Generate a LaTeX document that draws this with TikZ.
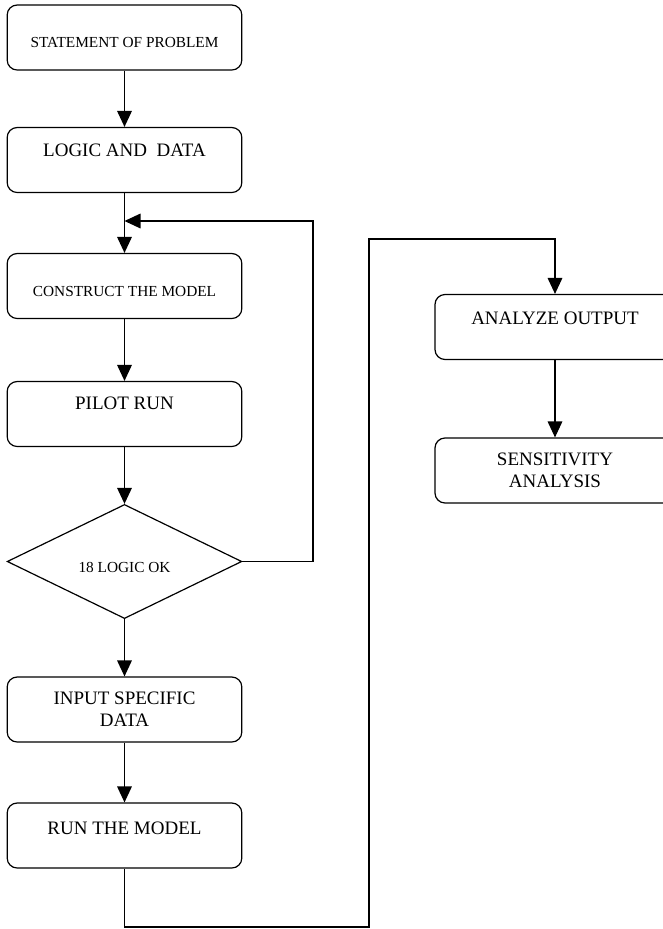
\documentclass[tikz,border=0pt]{standalone}
\usepackage{fontspec}
\setmainfont{Liberation Serif}
\usetikzlibrary{shapes.geometric,arrows.meta}

\tikzset{
  flow/.style = {line width=0.9pt, -{Triangle[length=12pt,width=11pt]}},
  wire/.style = {line width=0.9pt},
  box/.style = {draw, line width=0.9pt, rounded corners=7.5pt, inner sep=0pt,
                minimum width=176pt, minimum height=48.75pt, align=center,
                font=\fontsize{14.25pt}{16.5pt}\selectfont},
  small/.style = {font=\fontsize{11.5pt}{13pt}\selectfont},
  test/.style = {draw, diamond, line width=0.9pt, inner sep=0pt,
                 minimum width=176pt, minimum height=77pt}
}

\begin{document}
\begin{tikzpicture}[x=0.75pt, y=-0.75pt]
        \useasboundingbox (0, 0) rectangle (663, 929);

        % main column
        \node [box, small, text height=15.8pt] (statement) at (124.5, 37.5) {STATEMENT OF PROBLEM};
        \node [box, text depth=15pt] (logic) at (124.5, 160) {LOGIC AND \ DATA};
        \node [box, small, text height=16.5pt] (construct) at (124.5, 286) {CONSTRUCT THE MODEL};
        \node [box, text depth=16.5pt] (pilot) at (124.5, 414) {PILOT RUN};
        \node [test, small, text height=16.5pt] (check) at (124.5, 561.5) {18 LOGIC OK};
        \node [box] (input) at (124.5, 709.5) {INPUT SPECIFIC\\DATA};
        \node [box, text depth=11.25pt] (run) at (124.5, 835.5) {RUN THE MODEL};

        % right column
        \node [box, minimum width=180pt, text depth=13.5pt] (analyze) at (555, 327) {ANALYZE OUTPUT};
        \node [box, minimum width=180pt] (sensitivity) at (555, 470.5) {SENSITIVITY\\ANALYSIS};

        \coordinate (join) at (124.5, 221);
        \coordinate (loop) at (313, 221);
        \coordinate (low) at (369, 927);
        \coordinate (high) at (369, 239);

        \draw [flow] (statement) -- (logic);
        \draw [flow] (logic) -- (construct);
        \draw [flow] (construct) -- (pilot);
        \draw [flow] (pilot) -- (check);
        \draw [flow] (check) -- (input);
        \draw [flow] (input) -- (run);
        \draw [flow] (analyze) -- (sensitivity);

        % back to the model when the logic fails
        \draw [flow] (check.east) -| (loop) -- (join);

        % on to the output
        \draw [flow] (run.south) |- (low) -- (high) -| (analyze.north);
      \end{tikzpicture}
\end{document}
